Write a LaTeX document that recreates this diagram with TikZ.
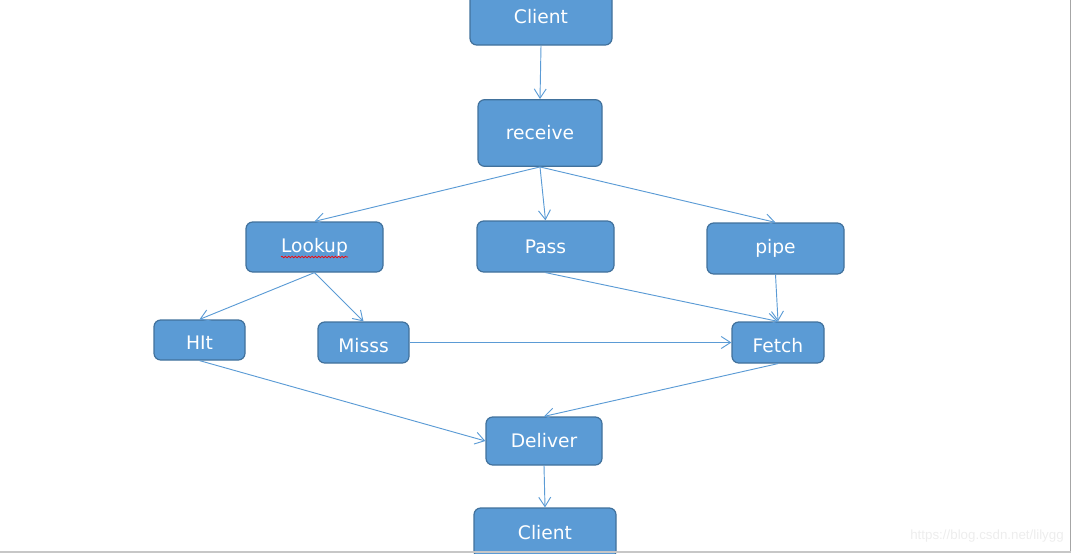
\documentclass[tikz,border=0pt]{standalone}
\usepackage{fontspec}
\setmainfont{DejaVu Sans}
\newfontfamily\markfont{Liberation Sans}
\usetikzlibrary{arrows.meta,decorations.pathmorphing}

\definecolor{boxfill}{HTML}{5B9BD5}
\definecolor{boxline}{HTML}{41719C}
\definecolor{linkcol}{HTML}{5B9BD5}

\tikzset{
  box/.style={draw=boxline, fill=boxfill, rounded corners=5pt, text=white,
    font=\fontsize{14}{16}\selectfont, line width=0.9pt, inner sep=0pt},
  sunk/.style={text height=15pt, text depth=0.3pt},
  link/.style={draw=linkcol, line width=0.7pt, -{Straight Barb[length=7pt,width=9pt]}}
}

\begin{document}
\begin{tikzpicture}[x=0.75pt, y=-0.75pt]
        \useasboundingbox (0,0) rectangle (1073,553);

        \node[box, minimum width=106.5pt, minimum height=42pt] (client) at (541,17) {Client};
        \node[box, minimum width=93pt, minimum height=50pt] (receive) at (540,133) {receive};
        \node[box, minimum width=102.75pt, minimum height=37.5pt] (lookup) at (314.5,247) {Lookup};
        \node[box, minimum width=102.75pt, minimum height=38.25pt] (pass) at (545.5,246.5) {Pass};
        \node[box, minimum width=102.75pt, minimum height=38.25pt] (pipe) at (775.5,248.5) {pipe};
        \node[box, sunk, minimum width=68.25pt, minimum height=30pt] (hit) at (199.5,340) {HIt};
        \node[box, sunk, minimum width=68.25pt, minimum height=30.75pt] (miss) at (363.5,342.5) {Misss};
        \node[box, sunk, minimum width=69pt, minimum height=30.75pt] (fetch) at (778,342.5) {Fetch};
        \node[box, minimum width=87pt, minimum height=36pt] (deliver) at (544,441) {Deliver};
        \node[box, minimum width=106.5pt, minimum height=37.5pt] (clientb) at (545,533) {Client};

        % spell check mark
        \draw[red, line width=0.5pt, decorate, decoration={snake, amplitude=0.6pt, segment length=2.5pt}]
            (281,257) -- (348,257);

        \draw[link] (client.south) -- (receive.north);
        \draw[link] (receive.south) -- (lookup.north);
        \draw[link] (receive.south) -- (pass.north);
        \draw[link] (receive.south) -- (pipe.north);
        \draw[link] (lookup.south) -- (hit.north);
        \draw[link] (lookup.south) -- (miss.north);
        \draw[link] (pass.south) -- (fetch.north);
        \draw[link] (pipe.south) -- (fetch.north);
        \draw[link] (miss.east) -- (fetch.west);
        \draw[link] (hit.south) -- (deliver.west);
        \draw[link] (fetch.south) -- (deliver.north);
        \draw[link] (deliver.south) -- (clientb.north);

        % page edges
        \draw[color=black!35, line width=1.2pt] (1070.5,0) -- (1070.5,552);
        \draw[color=black!22, line width=0.8pt] (0,552) -- (1070.5,552);

        \node[text=black!7, font=\markfont\fontsize{10}{12}\selectfont, anchor=east, inner sep=0pt]
            (mark) at (1064,536) {https://blog.csdn.net/lilygg};
    \end{tikzpicture}
\end{document}
